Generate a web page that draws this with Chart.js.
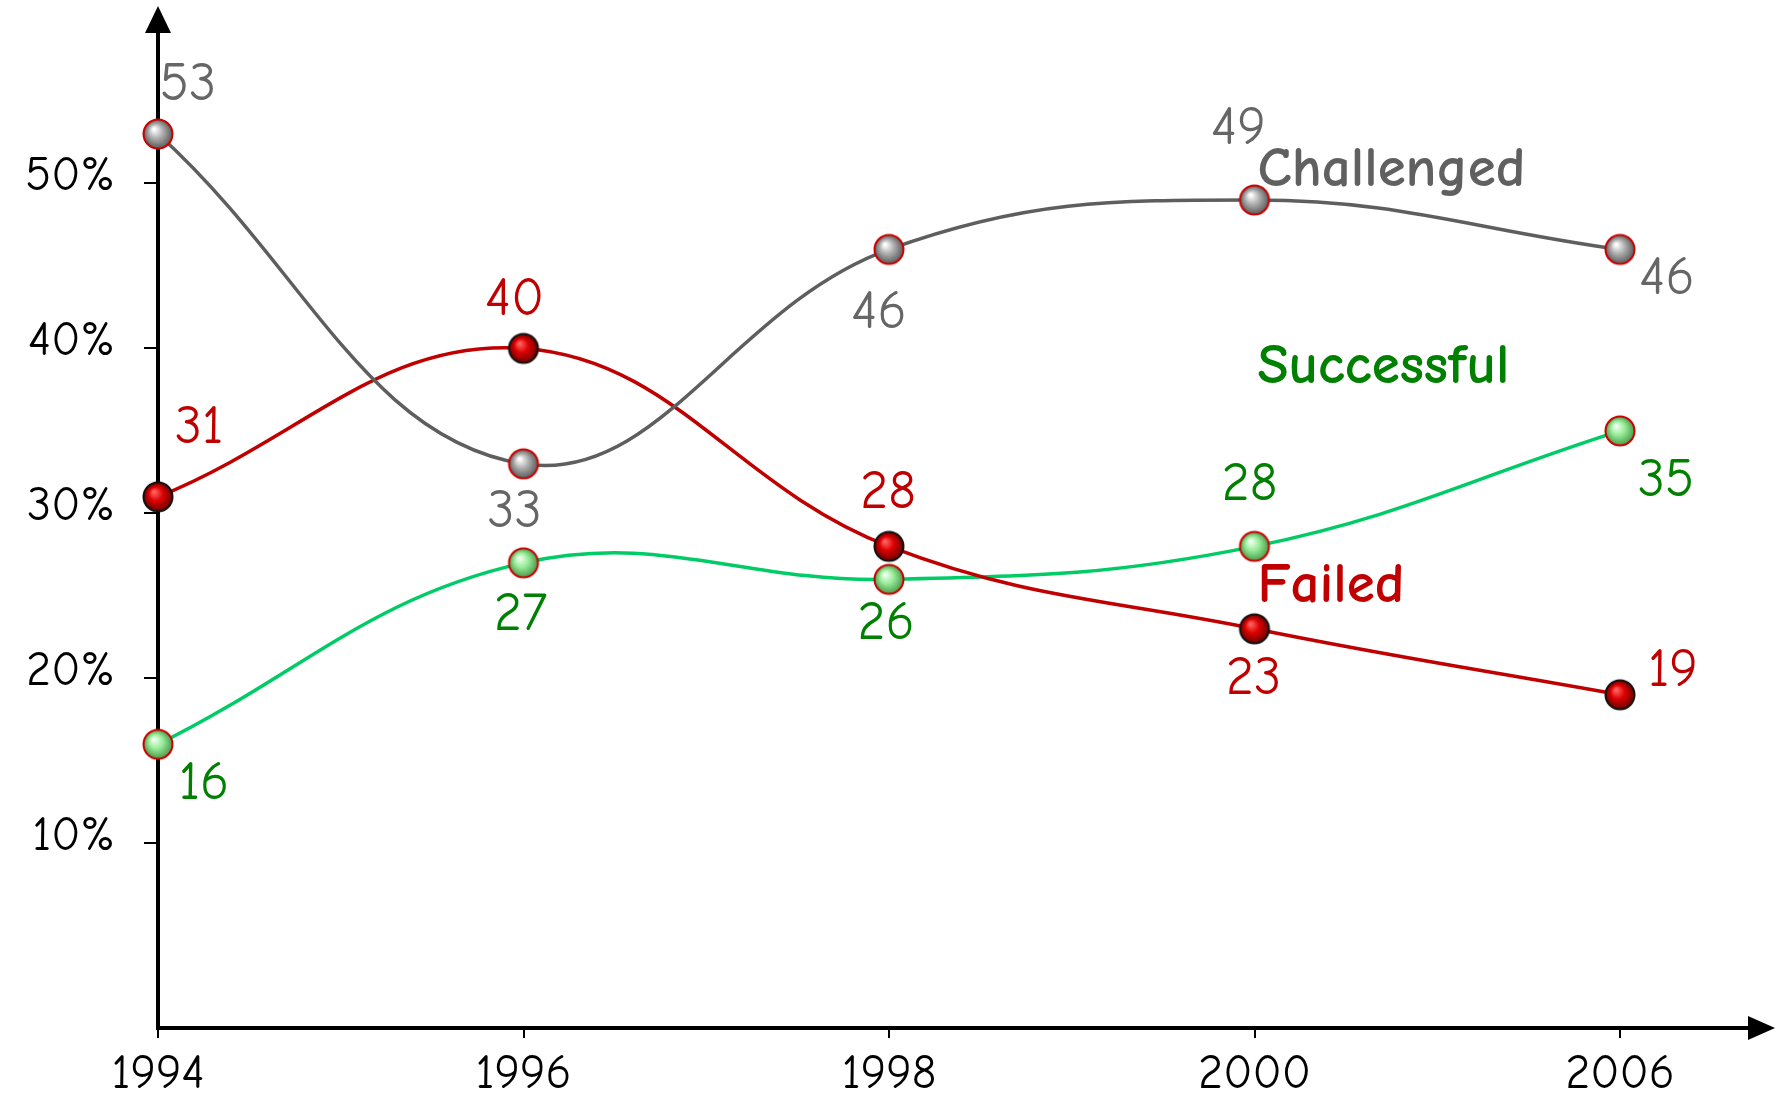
<!DOCTYPE html>
<html><head><meta charset="utf-8">
<script src="https://cdn.jsdelivr.net/npm/chart.js@4.4.1/dist/chart.umd.min.js"></script>
<style>html,body{margin:0;padding:0;background:#fff;} #wrap{width:1776px;height:1101px;}</style>
</head><body><div id="wrap"><canvas id="c" width="1776" height="1101"></canvas></div>
<script>
const years = ['1994', '1996', '1998', '2000', '2006'];
const challenged = [53, 33, 46, 49, 46];
const failed = [31, 40, 28, 23, 19];
const successful = [16, 27, 26, 28, 35];
const yTickValues = [10, 20, 30, 40, 50];
const seriesNames = ['Challenged', 'Failed', 'Successful'];

const FONT = "'Comic Sans MS','Comic Neue','DejaVu Sans',sans-serif";

function sphere(light, mid, dark, border) {
  const s = 36, c = document.createElement('canvas');
  c.width = s; c.height = s;
  const g = c.getContext('2d');
  const r = 14.5, cx = 18, cy = 18;
  const grad = g.createRadialGradient(cx - 4, cy - 5, 1, cx, cy, r);
  grad.addColorStop(0, light); grad.addColorStop(0.45, mid); grad.addColorStop(1, dark);
  g.beginPath(); g.arc(cx, cy, r, 0, Math.PI * 2); g.fillStyle = grad; g.fill();
  g.lineWidth = 2; g.strokeStyle = border; g.stroke();
  return c;
}
const graySphere = sphere('#ffffff', '#b0b0b0', '#5a5a5a', '#cc0000');
const redSphere = sphere('#ff6060', '#dd0000', '#6a0000', '#111111');
const greenSphere = sphere('#f0fff0', '#98ec98', '#4a9a4a', '#cc0000');

const deco = {
  id: 'deco',
  beforeDatasetsDraw(chart) {
    const { ctx, chartArea: a } = chart;
    ctx.save();
    ctx.strokeStyle = '#000'; ctx.fillStyle = '#000'; ctx.lineWidth = 4;
    ctx.beginPath(); ctx.moveTo(a.left, a.bottom + 2); ctx.lineTo(a.left, 30); ctx.stroke();
    ctx.beginPath(); ctx.moveTo(a.left - 2, a.bottom); ctx.lineTo(chart.width - 26, a.bottom); ctx.stroke();
    ctx.beginPath(); ctx.moveTo(a.left, 6); ctx.lineTo(a.left - 13, 33); ctx.lineTo(a.left + 13, 33); ctx.closePath(); ctx.fill();
    ctx.beginPath(); ctx.moveTo(chart.width - 1, a.bottom); ctx.lineTo(chart.width - 28, a.bottom - 12); ctx.lineTo(chart.width - 28, a.bottom + 12); ctx.closePath(); ctx.fill();
    ctx.restore();
  },
  afterDatasetsDraw(chart, args, opts) {
    const { ctx, chartArea: a } = chart;
    const ys = chart.scales.y;
    ctx.save();
    ctx.textAlign = 'center'; ctx.textBaseline = 'middle';
    ctx.font = '54px ' + FONT;
    chart.data.datasets.forEach((ds, di) => {
      const meta = chart.getDatasetMeta(di);
      const offs = opts.offsets[di];
      ctx.fillStyle = opts.labelColors[di];
      meta.data.forEach((pt, i) => {
        ctx.fillText(String(ds.data[i]), pt.x + offs[i][0], pt.y + offs[i][1]);
      });
    });
    ctx.textAlign = 'left';
    ctx.font = 'bold 57px ' + FONT;
    opts.names.forEach((n, di) => {
      ctx.fillStyle = n.color;
      ctx.fillText(chart.data.datasets[di].label, a.left + n.fx * (a.right - a.left), ys.getPixelForValue(n.v));
    });
    ctx.restore();
  }
};

new Chart(document.getElementById('c'), {
  type: 'line',
  data: {
    labels: years,
    datasets: [
      { label: seriesNames[0], data: challenged, borderColor: '#5e5e5e', borderWidth: 3.5, tension: 0.4,
        pointStyle: graySphere, pointRadius: 15, clip: false },
      { label: seriesNames[1], data: failed, borderColor: '#c00000', borderWidth: 3.5, tension: 0.4,
        pointStyle: redSphere, pointRadius: 15, clip: false },
      { label: seriesNames[2], data: successful, borderColor: '#00cc66', borderWidth: 3.5, tension: 0.4,
        pointStyle: greenSphere, pointRadius: 15, clip: false }
    ]
  },
  options: {
    responsive: false,
    animation: false,
    devicePixelRatio: 1,
    layout: { padding: { left: 0, right: 156, top: 6, bottom: 0 } },
    plugins: {
      legend: { display: false },
      tooltip: { enabled: false },
      deco: {
        offsets: [
          [[30, -49], [-9, 48], [-10, 63], [-16, -71], [47, 29]],
          [[41, -69], [-9, -49], [-1, -54], [-1, 50], [53, -24]],
          [[46, 39], [-3, 52], [-3, 44], [-5, -62], [46, 50]]
        ],
        labelColors: ['#666666', '#c00000', '#008000'],
        names: [
          { color: '#606060', fx: 0.752, v: 50.8 },
          { color: '#c00000', fx: 0.752, v: 25.6 },
          { color: '#008000', fx: 0.752, v: 38.85 }
        ]
      }
    },
    scales: {
      x: {
        type: 'category',
        offset: false,
        border: { display: false },
        grid: { display: true, drawOnChartArea: false, drawTicks: true, tickLength: 10, color: '#000', lineWidth: 2 },
        ticks: { color: '#000', font: { family: FONT, size: 48 }, padding: 8, maxRotation: 0, autoSkip: false },
        afterFit(scale) { scale.height = 1101 - 1028; scale.paddingLeft = 0; scale.paddingRight = 0; }
      },
      y: {
        type: 'linear',
        min: -1.2,
        max: 60.0,
        border: { display: false },
        grid: { display: true, drawOnChartArea: false, drawTicks: true, tickLength: 14, color: '#000', lineWidth: 2 },
        ticks: { color: '#000', font: { family: FONT, size: 48 }, padding: 29, labelOffset: -7,
                 callback: (v) => v + '%' },
        afterBuildTicks(scale) { scale.ticks = yTickValues.map(v => ({ value: v })); },
        afterFit(scale) { scale.width = 158; scale.paddingTop = 0; scale.paddingBottom = 0; }
      }
    }
  },
  plugins: [deco]
});
</script>
</body></html>
